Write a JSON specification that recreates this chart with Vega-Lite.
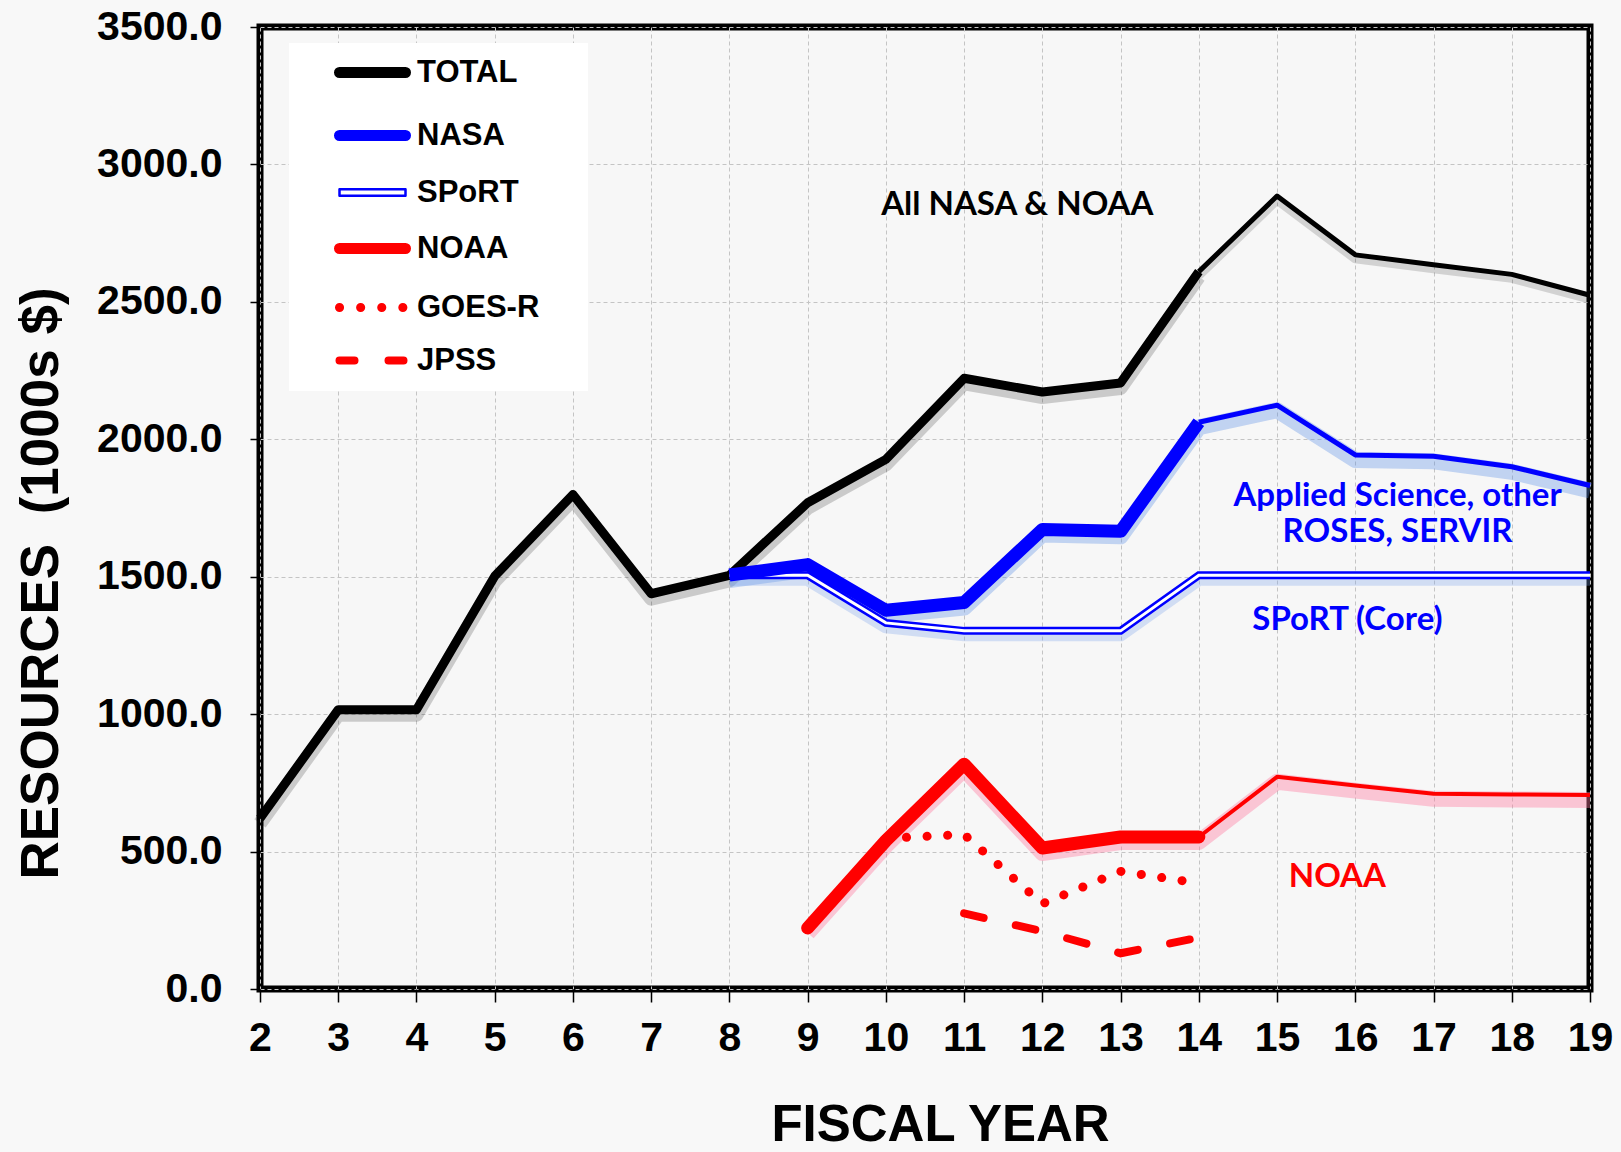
{
  "$schema": "https://vega.github.io/schema/vega-lite/v6.json",
  "autosize": {"type": "none"},
  "width": 1330,
  "height": 962,
  "padding": {"left": 260, "top": 27, "right": 31, "bottom": 163},
  "background": "#f8f8f8",
  "datasets": {
    "lines": [
      {"series": "TOTAL", "phase": "actual", "year": 2, "value": 621},
      {"series": "TOTAL", "phase": "actual", "year": 3, "value": 1016},
      {"series": "TOTAL", "phase": "actual", "year": 4, "value": 1016},
      {"series": "TOTAL", "phase": "actual", "year": 5, "value": 1502},
      {"series": "TOTAL", "phase": "actual", "year": 6, "value": 1799},
      {"series": "TOTAL", "phase": "actual", "year": 7, "value": 1438},
      {"series": "TOTAL", "phase": "actual", "year": 8, "value": 1505},
      {"series": "TOTAL", "phase": "actual", "year": 9, "value": 1769},
      {"series": "TOTAL", "phase": "actual", "year": 10, "value": 1927},
      {"series": "TOTAL", "phase": "actual", "year": 11, "value": 2222},
      {"series": "TOTAL", "phase": "actual", "year": 12, "value": 2172},
      {"series": "TOTAL", "phase": "actual", "year": 13, "value": 2205},
      {"series": "TOTAL", "phase": "actual", "year": 14, "value": 2610},
      {"series": "TOTAL", "phase": "projected", "year": 14, "value": 2610},
      {"series": "TOTAL", "phase": "projected", "year": 15, "value": 2885},
      {"series": "TOTAL", "phase": "projected", "year": 16, "value": 2671},
      {"series": "TOTAL", "phase": "projected", "year": 17, "value": 2635},
      {"series": "TOTAL", "phase": "projected", "year": 18, "value": 2600},
      {"series": "TOTAL", "phase": "projected", "year": 19, "value": 2524},
      {"series": "NASA", "phase": "actual", "year": 8, "value": 1506},
      {"series": "NASA", "phase": "actual", "year": 9, "value": 1544},
      {"series": "NASA", "phase": "actual", "year": 10, "value": 1378},
      {"series": "NASA", "phase": "actual", "year": 11, "value": 1406},
      {"series": "NASA", "phase": "actual", "year": 12, "value": 1672},
      {"series": "NASA", "phase": "actual", "year": 13, "value": 1665},
      {"series": "NASA", "phase": "actual", "year": 14, "value": 2062},
      {"series": "NASA", "phase": "projected", "year": 14, "value": 2062},
      {"series": "NASA", "phase": "projected", "year": 15, "value": 2124},
      {"series": "NASA", "phase": "projected", "year": 16, "value": 1943},
      {"series": "NASA", "phase": "projected", "year": 17, "value": 1938},
      {"series": "NASA", "phase": "projected", "year": 18, "value": 1900},
      {"series": "NASA", "phase": "projected", "year": 19, "value": 1832},
      {"series": "SPoRT", "phase": "actual", "year": 8, "value": 1505},
      {"series": "SPoRT", "phase": "actual", "year": 9, "value": 1505},
      {"series": "SPoRT", "phase": "actual", "year": 10, "value": 1332},
      {"series": "SPoRT", "phase": "actual", "year": 11, "value": 1303},
      {"series": "SPoRT", "phase": "actual", "year": 12, "value": 1303},
      {"series": "SPoRT", "phase": "actual", "year": 13, "value": 1303},
      {"series": "SPoRT", "phase": "actual", "year": 14, "value": 1505},
      {"series": "SPoRT", "phase": "actual", "year": 15, "value": 1505},
      {"series": "SPoRT", "phase": "actual", "year": 16, "value": 1505},
      {"series": "SPoRT", "phase": "actual", "year": 17, "value": 1505},
      {"series": "SPoRT", "phase": "actual", "year": 18, "value": 1505},
      {"series": "SPoRT", "phase": "actual", "year": 19, "value": 1505},
      {"series": "NOAA", "phase": "actual", "year": 9, "value": 222},
      {"series": "NOAA", "phase": "actual", "year": 10, "value": 540},
      {"series": "NOAA", "phase": "actual", "year": 11, "value": 818},
      {"series": "NOAA", "phase": "actual", "year": 12, "value": 513},
      {"series": "NOAA", "phase": "actual", "year": 13, "value": 553},
      {"series": "NOAA", "phase": "actual", "year": 14, "value": 553},
      {"series": "NOAA", "phase": "projected", "year": 14, "value": 553},
      {"series": "NOAA", "phase": "projected", "year": 15, "value": 772},
      {"series": "NOAA", "phase": "projected", "year": 16, "value": 740},
      {"series": "NOAA", "phase": "projected", "year": 17, "value": 710},
      {"series": "NOAA", "phase": "projected", "year": 18, "value": 708},
      {"series": "NOAA", "phase": "projected", "year": 19, "value": 706},
      {"series": "GOES-R", "phase": "actual", "year": 10, "value": 548},
      {"series": "GOES-R", "phase": "actual", "year": 11, "value": 562},
      {"series": "GOES-R", "phase": "actual", "year": 12, "value": 310},
      {"series": "GOES-R", "phase": "actual", "year": 13, "value": 428},
      {"series": "GOES-R", "phase": "actual", "year": 14, "value": 385},
      {"series": "JPSS", "phase": "actual", "year": 11, "value": 275},
      {"series": "JPSS", "phase": "actual", "year": 12, "value": 210},
      {"series": "JPSS", "phase": "actual", "year": 13, "value": 130},
      {"series": "JPSS", "phase": "actual", "year": 14, "value": 187}
    ],
    "notes": [
      {"series": "TOTAL", "text": "All NASA & NOAA", "year": 11.68, "value": 2853},
      {"series": "NASA", "text": "Applied Science, other", "year": 16.54, "value": 1792},
      {"series": "NASA", "text": "ROSES, SERVIR", "year": 16.54, "value": 1662},
      {"series": "SPoRT", "text": "SPoRT (Core)", "year": 15.9, "value": 1344},
      {"series": "NOAA", "text": "NOAA", "year": 15.77, "value": 409}
    ]
  },
  "data": {"name": "lines"},
  "encoding": {
    "x": {
      "field": "year", "type": "quantitative",
      "scale": {"domain": [2, 19], "nice": false, "zero": false},
      "axis": {
        "values": [2,3,4,5,6,7,8,9,10,11,12,13,14,15,16,17,18,19],
        "format": "d",
        "title": "FISCAL YEAR",
        "titleX": 680,
        "titlePadding": 42,
        "labelPadding": 16,
        "labelFlush": false,
        "labelOverlap": false,
        "tickSize": 13
      }
    },
    "y": {
      "field": "value", "type": "quantitative",
      "scale": {"domain": [0, 3500], "nice": false},
      "axis": {
        "values": [0, 500, 1000, 1500, 2000, 2500, 3000, 3500],
        "format": ".1f",
        "title": "RESOURCES\u00a0 (1000s $)",
        "titleY": 556,
        "titleAlign": "center",
        "titlePadding": 28,
        "labelPadding": 28,
        "labelFlush": false,
        "labelOverlap": false,
        "tickSize": 10
      }
    },
    "color": {
      "field": "series", "type": "nominal",
      "scale": {
        "domain": ["TOTAL", "NASA", "SPoRT", "NOAA", "GOES-R", "JPSS"],
        "range": ["#000000", "#0000ff", "#0000ff", "#ff0000", "#ff0000", "#ff0000"]
      },
      "legend": {
        "title": "\u00a0",
        "titleOrient": "right",
        "titleFontSize": 2,
        "titlePadding": 35,
        "orient": "none",
        "legendX": 29,
        "legendY": 16,
        "fillColor": "#ffffff",
        "padding": 14,
        "symbolOffset": 54,
        "symbolType": "stroke",
        "symbolSize": 4356,
        "symbolStrokeWidth": 11,
        "symbolFillColor": "#ffffff",
        "labelFont": "Liberation Sans",
        "labelFontSize": 31,
        "labelFontWeight": "bold",
        "labelColor": "#000000",
        "labelOffset": 29,
        "labelLimit": 400,
        "rowPadding": 18,
        "encode": {
          "symbols": {
            "update": {
              "shape": {"signal": "datum.value === 'SPoRT' ? 'M-1,-0.1L1,-0.1M-1,0.1L1,0.1M-1,-0.1L-1,0.1M1,-0.1L1,0.1' : 'stroke'"},
              "strokeWidth": {"signal": "datum.value === 'SPoRT' ? 2.5 : datum.value === 'GOES-R' ? 9 : datum.value === 'JPSS' ? 8 : 11"},
              "strokeDash": {"signal": "datum.value === 'GOES-R' ? [0.1, 21] : datum.value === 'JPSS' ? [15, 34] : [1, 0]"},
              "strokeCap": {"value": "round"},
              "fill": {"value": "#ffffff"},
              "fillOpacity": {"value": 1}
            }
          }
        }
      }
    }
  },
  "layer": [
    {"transform": [{"filter": "datum.series === 'TOTAL' && datum.phase === 'actual'"}],
     "mark": {"type": "line", "strokeWidth": 14, "opacity": 0.18, "yOffset": 5, "strokeJoin": "round"},
     "encoding": {"color": {"value": "#000000"}}},
    {"transform": [{"filter": "datum.series === 'TOTAL' && datum.phase === 'projected'"}],
     "mark": {"type": "line", "strokeWidth": 9, "opacity": 0.15, "yOffset": 4, "strokeJoin": "round"},
     "encoding": {"color": {"value": "#000000"}}},
    {"transform": [{"filter": "datum.series === 'NASA'"}],
     "mark": {"type": "line", "strokeWidth": 16, "opacity": 0.35, "yOffset": 5, "strokeJoin": "round"},
     "encoding": {"color": {"value": "#5d8fe6"}}},
    {"transform": [{"filter": "datum.series === 'SPoRT'"}],
     "mark": {"type": "line", "strokeWidth": 13, "opacity": 0.3, "yOffset": 4, "strokeJoin": "round"},
     "encoding": {"color": {"value": "#7aa3ea"}}},
    {"transform": [{"filter": "datum.series === 'NOAA'"}],
     "mark": {"type": "line", "strokeWidth": 16, "opacity": 0.4, "yOffset": 5, "strokeJoin": "round"},
     "encoding": {"color": {"value": "#ff7aa0"}}},
    {"transform": [{"filter": "datum.series === 'TOTAL' && datum.phase === 'actual'"}],
     "mark": {"type": "line", "strokeJoin": "round", "strokeCap": "butt"},
     "encoding": {"strokeWidth": {"value": 9}}},
    {"transform": [{"filter": "datum.series === 'TOTAL' && datum.phase === 'projected'"}],
     "mark": {"type": "line", "strokeJoin": "round"},
     "encoding": {"strokeWidth": {"value": 5}}},
    {"transform": [{"filter": "datum.series === 'SPoRT'"}],
     "mark": {"type": "line", "strokeJoin": "miter"},
     "encoding": {"strokeWidth": {"value": 8}}},
    {"transform": [{"filter": "datum.series === 'SPoRT'"}],
     "mark": {"type": "line", "strokeWidth": 3, "strokeJoin": "miter"},
     "encoding": {"color": {"value": "#ffffff"}}},
    {"transform": [{"filter": "datum.series === 'NASA' && datum.phase === 'actual'"}],
     "mark": {"type": "line", "strokeJoin": "round"},
     "encoding": {"strokeWidth": {"value": 13}}},
    {"transform": [{"filter": "datum.series === 'NASA' && datum.phase === 'projected'"}],
     "mark": {"type": "line", "strokeJoin": "round"},
     "encoding": {"strokeWidth": {"value": 5}}},
    {"transform": [{"filter": "datum.series === 'GOES-R'"}],
     "mark": {"type": "line", "strokeDash": [0.1, 20.5], "strokeCap": "round", "strokeJoin": "round"},
     "encoding": {"strokeWidth": {"value": 9}}},
    {"transform": [{"filter": "datum.series === 'JPSS'"}],
     "mark": {"type": "line", "strokeDash": [20, 33], "strokeCap": "round"},
     "encoding": {"strokeWidth": {"value": 8}}},
    {"transform": [{"filter": "datum.series === 'NOAA' && datum.phase === 'actual'"}],
     "mark": {"type": "line", "strokeJoin": "round", "strokeCap": "round"},
     "encoding": {"strokeWidth": {"value": 13}}},
    {"transform": [{"filter": "datum.series === 'NOAA' && datum.phase === 'projected'"}],
     "mark": {"type": "line", "strokeJoin": "round"},
     "encoding": {"strokeWidth": {"value": 4}}},
    {"data": {"name": "notes"},
     "mark": {"type": "text", "font": "Lato", "fontWeight": "bold", "fontSize": 33, "align": "center", "baseline": "middle"},
     "encoding": {
       "text": {"field": "text"}
     }}
  ],
  "config": {
    "font": "Liberation Sans",
    "view": {"stroke": "#000000", "strokeWidth": 7, "fill": "#f7f7f7"},
    "axis": {
      "domain": false,
      "grid": true,
      "gridColor": "#c4c4c4",
      "gridDash": [4, 3],
      "gridWidth": 1,
      "labelFont": "Liberation Sans",
      "labelFontSize": 41,
      "labelFontWeight": "bold",
      "labelColor": "#000000",
      "tickColor": "#000000",
      "tickWidth": 1.5,
      "titleFont": "Liberation Sans",
      "titleFontWeight": "bold",
      "titleColor": "#000000"
    },
    "axisX": {"titleFontSize": 51},
    "axisY": {"titleFontSize": 53}
  }
}
